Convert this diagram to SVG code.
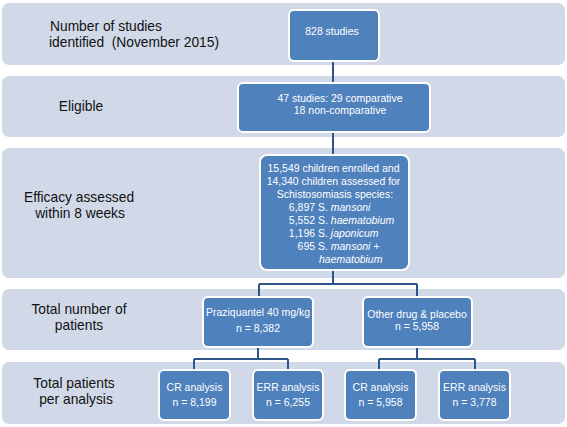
<svg xmlns="http://www.w3.org/2000/svg" width="567" height="427" viewBox="0 0 567 427">
<style>
.band{fill:#d1d9e8}
.node{fill:#4f81bd;stroke:#ffffff;stroke-width:2}
.lbl{font-family:"Liberation Sans",Arial,sans-serif;font-size:15px;fill:#111111;text-anchor:middle}
.nt{font-family:"Liberation Sans",Arial,sans-serif;font-size:11.5px;fill:#ffffff;text-anchor:middle}
.nl{font-family:"Liberation Sans",Arial,sans-serif;font-size:11.5px;fill:#ffffff}
.it{font-style:italic}
.conn{fill:none;stroke:#2e5587;stroke-width:2}
</style>
<rect width="567" height="427" fill="#ffffff"/>
<g id="bands">
<rect class="band" x="2" y="3" width="563" height="62" rx="7"/>
<rect class="band" x="2" y="76" width="563" height="61" rx="7"/>
<rect class="band" x="2" y="148" width="563" height="130" rx="7"/>
<rect class="band" x="2" y="289" width="563" height="61" rx="7"/>
<rect class="band" x="2" y="362" width="563" height="62" rx="7"/>
</g>
<g id="labels">
<text class="lbl" style="text-anchor:start" transform="translate(50,0) scale(0.92,1)" x="0" y="31">Number of studies</text>
<text class="lbl" style="text-anchor:start" transform="translate(49,0) scale(0.92,1)" x="0" y="47">identified <tspan dx="4">(November 2015)</tspan></text>
<text class="lbl" transform="translate(81,0) scale(0.92,1)" x="0" y="111">Eligible</text>
<text class="lbl" transform="translate(79,0) scale(0.92,1)" x="0" y="202">Efficacy assessed</text>
<text class="lbl" transform="translate(80,0) scale(0.92,1)" x="0" y="218">within 8 weeks</text>
<text class="lbl" transform="translate(79,0) scale(0.92,1)" x="0" y="314">Total number of</text>
<text class="lbl" transform="translate(79,0) scale(0.92,1)" x="0" y="330">patients</text>
<text class="lbl" transform="translate(74,0) scale(0.92,1)" x="0" y="388">Total patients</text>
<text class="lbl" transform="translate(76,0) scale(0.92,1)" x="0" y="404">per analysis</text>
</g>
<g id="connectors">
<path class="conn" d="M333 61V155"/>
<path class="conn" d="M333 270V284M259 284H417M259 284V297M417 284V297"/>
<path class="conn" d="M258 347V359M194 359H288M194 359V370M288 359V370"/>
<path class="conn" d="M417 347V359M379 359H475M379 359V370M475 359V370"/>
</g>
<g id="n1">
<rect class="node" x="289" y="10" width="90" height="51" rx="5"/>
<text class="nt" transform="translate(332,0) scale(0.91,1)" x="0" y="35">828 studies</text>
</g>
<g id="n2">
<rect class="node" x="238" y="83" width="192" height="49" rx="5"/>
<g transform="translate(340,0) scale(0.91,1)">
<text class="nt" x="0" y="102">47 studies: 29 comparative</text>
<text class="nt" x="0" y="114.5">18 non-comparative</text>
</g>
</g>
<g id="n3">
<rect class="node" x="260" y="155" width="149" height="115" rx="7"/>
<g transform="translate(333.5,0) scale(0.91,1)">
<text class="nt" x="0" y="172.5">15,549 children enrolled and</text>
<text class="nt" x="0" y="185.5">14,340 children assessed for</text>
<text class="nt" x="1.6" y="198.5">Schistosomiasis species:</text>
<text class="nl" style="text-anchor:end" x="-20.3" y="211.5">6,897</text>
<text class="nl" x="-17" y="211.5">S. <tspan class="it">mansoni</tspan></text>
<text class="nl" style="text-anchor:end" x="-20.3" y="224.5">5,552</text>
<text class="nl" x="-17" y="224.5">S. <tspan class="it">haematobium</tspan></text>
<text class="nl" style="text-anchor:end" x="-20.3" y="237.5">1,196</text>
<text class="nl" x="-17" y="237.5">S. <tspan class="it">japonicum</tspan></text>
<text class="nl" style="text-anchor:end" x="-20.3" y="250.5">695</text>
<text class="nl" x="-17" y="250.5">S. <tspan class="it">mansoni +</tspan></text>
<text class="nl it" x="-15.9" y="263.5">haematobium</text>
</g>
</g>
<g id="n4a">
<rect class="node" x="203" y="297" width="110" height="50" rx="5"/>
<g transform="translate(258,0) scale(0.91,1)">
<text class="nt" x="0" y="316">Praziquantel 40 mg/kg</text>
<text class="nt" x="0" y="332">n = 8,382</text>
</g>
</g>
<g id="n4b">
<rect class="node" x="363" y="297" width="109" height="50" rx="5"/>
<g transform="translate(417,0) scale(0.91,1)">
<text class="nt" x="0" y="318">Other drug &amp; placebo</text>
<text class="nt" x="0" y="330.5">n = 5,958</text>
</g>
</g>
<g id="n5a">
<rect class="node" x="159" y="370" width="71" height="50" rx="5"/>
<g transform="translate(194.5,0) scale(0.91,1)">
<text class="nt" x="0" y="391.5">CR analysis</text>
<text class="nt" x="0" y="406.5">n = 8,199</text>
</g>
</g>
<g id="n5b">
<rect class="node" x="253" y="370" width="70" height="50" rx="5"/>
<g transform="translate(288,0) scale(0.91,1)">
<text class="nt" x="0" y="391.5">ERR analysis</text>
<text class="nt" x="0" y="406.5">n = 6,255</text>
</g>
</g>
<g id="n5c">
<rect class="node" x="345" y="370" width="71" height="50" rx="5"/>
<g transform="translate(380.5,0) scale(0.91,1)">
<text class="nt" x="0" y="391.5">CR analysis</text>
<text class="nt" x="0" y="406.5">n = 5,958</text>
</g>
</g>
<g id="n5d">
<rect class="node" x="439" y="370" width="71" height="50" rx="5"/>
<g transform="translate(474.5,0) scale(0.91,1)">
<text class="nt" x="0" y="391.5">ERR analysis</text>
<text class="nt" x="0" y="406.5">n = 3,778</text>
</g>
</g>
</svg>
